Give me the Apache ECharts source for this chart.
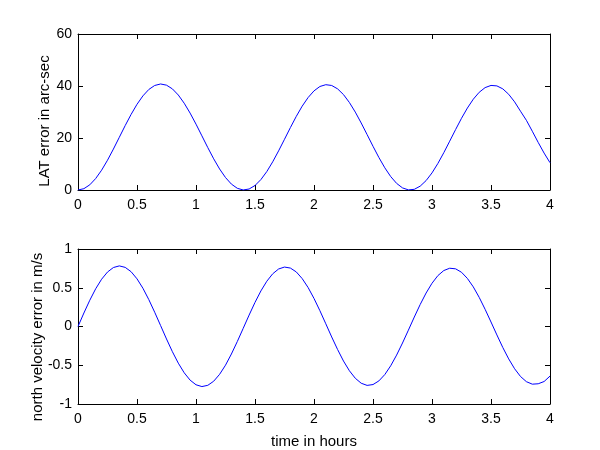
<!DOCTYPE html>
<html>
<head>
<meta charset="utf-8">
<script src="https://cdn.jsdelivr.net/npm/echarts@6/dist/echarts.min.js"></script>
<style>
html,body{margin:0;padding:0;background:#fff;}
#c{width:600px;height:450px;}
</style>
</head>
<body>
<div id="c"></div>
<script>
// time in hours
var timeHours = [0,0.05,0.1,0.15,0.2,0.25,0.3,0.35,0.4,0.45,0.5,0.55,0.6,0.65,0.7,0.75,0.8,0.85,0.9,0.95,
1,1.05,1.1,1.15,1.2,1.25,1.3,1.35,1.4,1.45,1.5,1.55,1.6,1.65,1.7,1.75,1.8,1.85,1.9,1.95,
2,2.05,2.1,2.15,2.2,2.25,2.3,2.35,2.4,2.45,2.5,2.55,2.6,2.65,2.7,2.75,2.8,2.85,2.9,2.95,
3,3.05,3.1,3.15,3.2,3.25,3.3,3.35,3.4,3.45,3.5,3.55,3.6,3.65,3.7,3.75,3.8,3.85,3.9,3.95,4];

// LAT error in arc-sec
var latError = [0,0.51,2.0,4.42,7.62,11.46,15.74,20.26,24.78,29.08,32.96,36.19,38.66,40.20,40.78,40.32,38.89,36.53,33.38,29.58,
25.33,20.83,16.30,11.99,8.08,4.79,2.27,0.65,0.01,0.38,1.73,4.01,7.09,10.83,15.05,19.51,24.01,28.33,32.25,35.56,
38.13,39.81,40.50,40.20,38.90,36.69,33.65,29.96,25.77,21.32,16.82,12.49,8.54,5.17,2.55,0.81,0.04,0.26,1.48,3.62,
6.58,10.22,14.35,18.77,23.25,27.58,31.53,34.93,37.58,39.38,40.22,40.04,38.90,36.81,33.90,30.30,26.8,22.6,18.3,14.2,10.5];

// north velocity error in m/s
var northVelErr = [0,0.174,0.339,0.487,0.610,0.703,0.761,0.782,0.763,0.707,0.615,0.494,0.347,0.184,0.012,-0.161,-0.325,-0.473,-0.597,-0.692,
-0.752,-0.775,-0.759,-0.706,-0.617,-0.499,-0.355,-0.194,-0.024,0.147,0.311,0.459,0.584,0.680,0.742,0.767,0.754,0.704,0.618,0.503,
0.362,0.204,0.035,-0.135,-0.297,-0.446,-0.571,-0.668,-0.732,-0.760,-0.749,-0.702,-0.620,-0.507,-0.369,-0.213,-0.047,0.122,0.284,0.432,
0.558,0.657,0.722,0.752,0.744,0.700,0.620,0.511,0.376,0.222,0.058,-0.109,-0.271,-0.418,-0.545,-0.645,-0.712,-0.744,-0.739,-0.71,-0.64];

var xTicks = {min:0, max:4, interval:0.5};
var yTop = {min:0, max:60, interval:20};
var yBot = {min:-1, max:1, interval:0.5};

var FONT = '"Liberation Sans", Arial, sans-serif';
var BLACK = '#000';

function pairs(xs, ys){ return xs.map(function(x,i){ return [x, ys[i]]; }); }

function xAxisMain(gi, name){
  return {type:'value', gridIndex:gi, position:'bottom', min:xTicks.min, max:xTicks.max, interval:xTicks.interval,
    axisLine:{show:true, onZero:false, lineStyle:{color:BLACK, width:1}},
    axisTick:{show:true, inside:true, length:5, lineStyle:{color:BLACK}},
    axisLabel:{show:true, color:BLACK, fontSize:14, fontFamily:FONT, margin:8},
    splitLine:{show:false},
    name:name||'', nameLocation:'middle', nameGap:30, nameMoveOverlap:false,
    nameTextStyle:{color:BLACK, fontSize:15, fontFamily:FONT}};
}
function xAxisTop(gi){
  return {type:'value', gridIndex:gi, position:'top', min:xTicks.min, max:xTicks.max, interval:xTicks.interval,
    axisLine:{show:true, onZero:false, lineStyle:{color:BLACK, width:1}},
    axisTick:{show:true, inside:true, length:5, lineStyle:{color:BLACK}},
    axisLabel:{show:false}, splitLine:{show:false}};
}
function yAxisMain(gi, rng, name, gap, shift){
  return {type:'value', gridIndex:gi, position:'left', min:rng.min, max:rng.max, interval:rng.interval,
    axisLine:{show:true, onZero:false, lineStyle:{color:BLACK, width:1}},
    axisTick:{show:true, inside:true, length:5, lineStyle:{color:BLACK}},
    axisLabel:{show:true, color:BLACK, fontSize:14, fontFamily:FONT, margin:6},
    splitLine:{show:false},
    name:name, nameLocation:'middle', nameGap:gap, nameRotate:90, nameMoveOverlap:false,
    nameTextStyle:{color:BLACK, fontSize:15, fontFamily:FONT, padding:[0, shift, 0, 0]}};
}
function yAxisRight(gi, rng){
  return {type:'value', gridIndex:gi, position:'right', min:rng.min, max:rng.max, interval:rng.interval,
    axisLine:{show:true, onZero:false, lineStyle:{color:BLACK, width:1}},
    axisTick:{show:true, inside:true, length:5, lineStyle:{color:BLACK}},
    axisLabel:{show:false}, splitLine:{show:false}};
}

var chart = echarts.init(document.getElementById('c'), null, {renderer:'canvas'});
chart.setOption({
  backgroundColor:'#fff',
  animation:false,
  grid:[
    {left:78, right:50, top:34, height:156},
    {left:78, right:50, top:249, height:156}
  ],
  xAxis:[xAxisMain(0,''), xAxisTop(0), xAxisMain(1,'time in hours'), xAxisTop(1)],
  yAxis:[yAxisMain(0, yTop, 'LAT error in arc-sec', 26, 18), yAxisRight(0, yTop),
         yAxisMain(1, yBot, 'north velocity error in m/s', 33, 21), yAxisRight(1, yBot)],
  series:[
    {type:'line', xAxisIndex:0, yAxisIndex:0, data:pairs(timeHours, latError), showSymbol:false,
      lineStyle:{color:'#0000ff', width:1}, itemStyle:{color:'#0000ff'}},
    {type:'line', xAxisIndex:2, yAxisIndex:2, data:pairs(timeHours, northVelErr), showSymbol:false,
      lineStyle:{color:'#0000ff', width:1}, itemStyle:{color:'#0000ff'}}
  ]
});
</script>
</body>
</html>
